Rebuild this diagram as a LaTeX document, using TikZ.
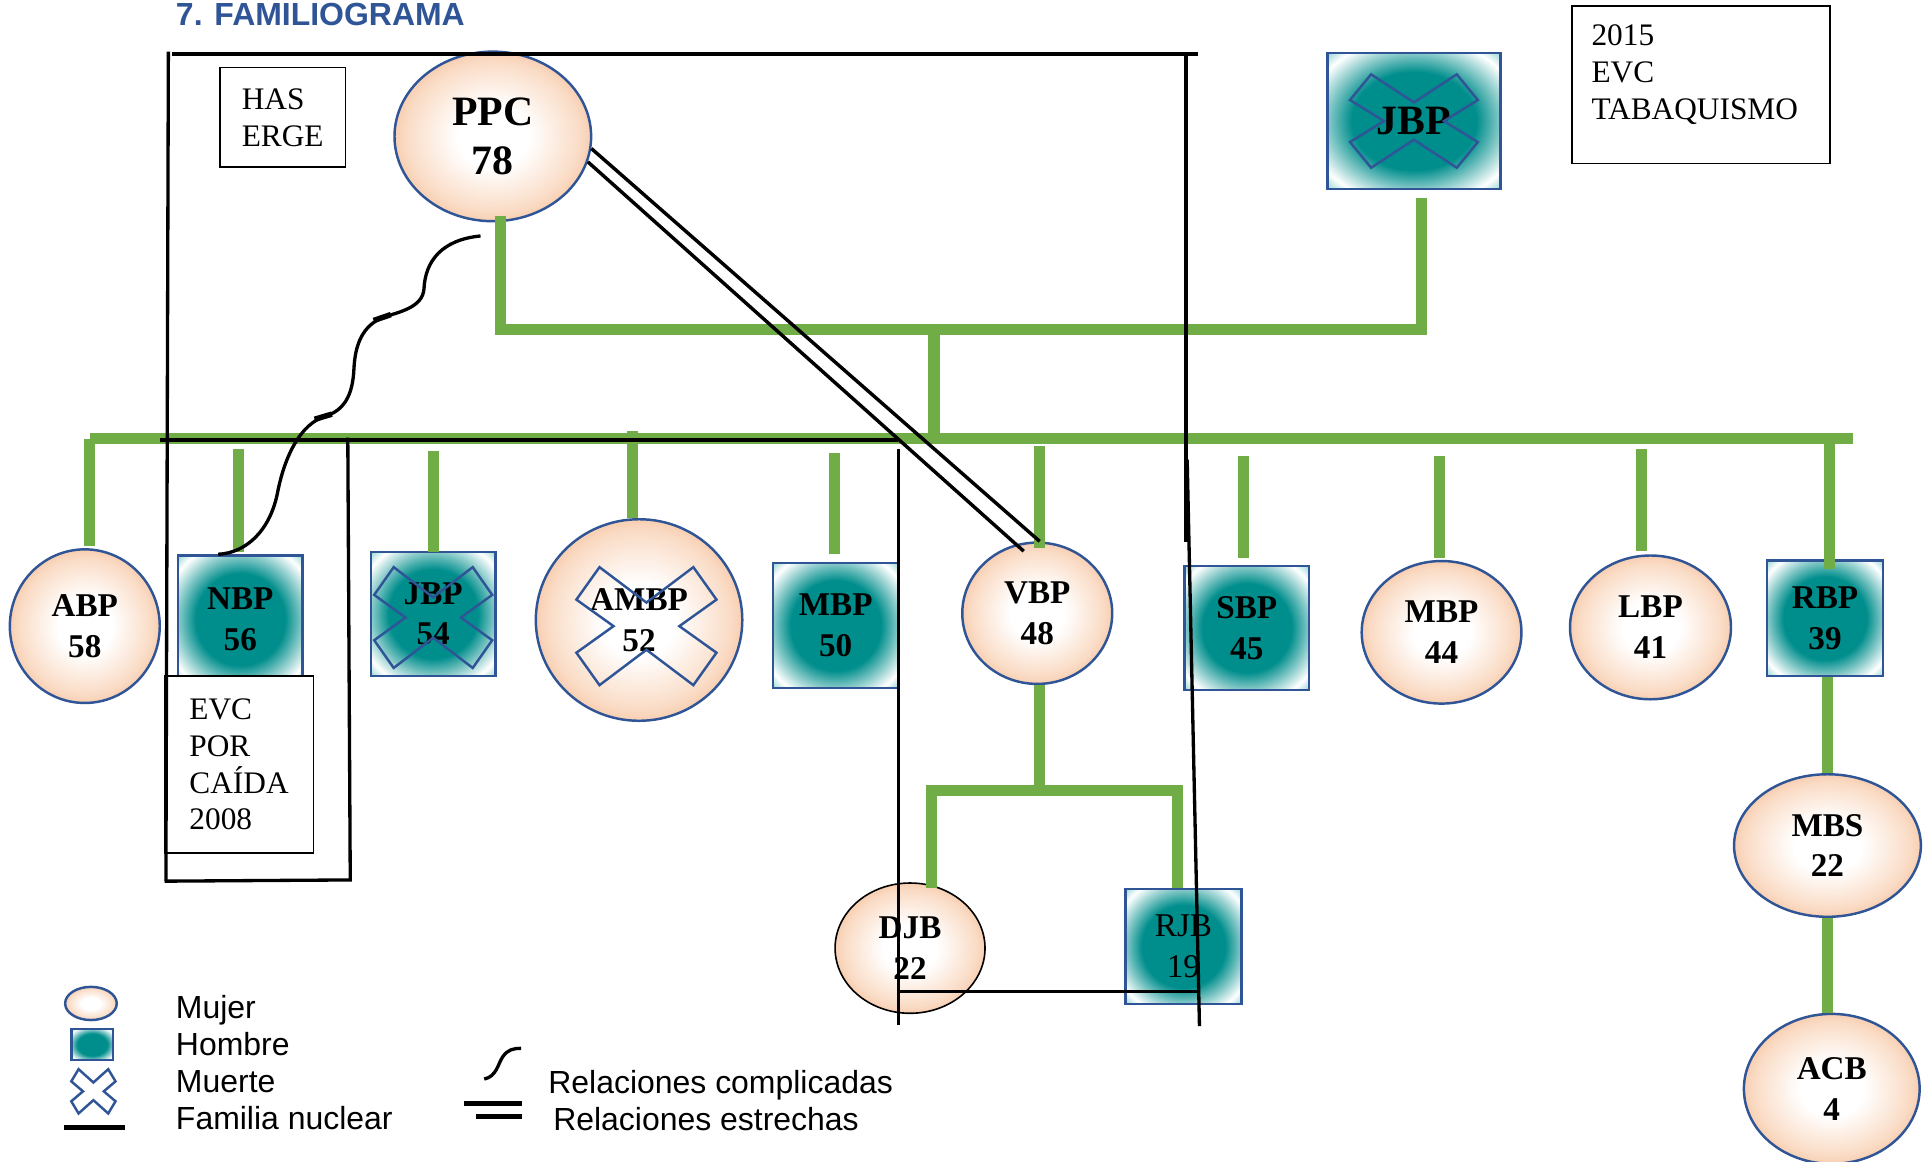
\documentclass[tikz,border=0pt]{standalone}
\usepackage{fontspec}
\setmainfont{Liberation Serif}
\newfontfamily\arialfam{Liberation Sans}
\usepackage{xcolor}
\usetikzlibrary{positioning, shapes.geometric, calc}

\definecolor{azul}{RGB}{47,85,151}
\definecolor{verde}{RGB}{112,173,71}
\definecolor{durazno}{RGB}{241,166,116}
\definecolor{duraznoc}{RGB}{250,220,198}
\definecolor{tealc}{RGB}{0,142,140}
\definecolor{teall}{RGB}{160,218,216}
\definecolor{esquina}{RGB}{212,142,92}

\pgfdeclareradialshading{mujershade}{\pgfpoint{0bp}{0bp}}{color(0bp)=(white); color(9bp)=(white); color(22bp)=(duraznoc); color(34bp)=(durazno); color(52bp)=(durazno)}
\pgfdeclareradialshading{hombreshade}{\pgfpoint{0bp}{0bp}}{color(0bp)=(tealc); color(18bp)=(tealc); color(31bp)=(white); color(35bp)=(teall); color(40bp)=(teall); color(48bp)=(esquina); color(52bp)=(esquina)}

\newcommand{\nombrefont}{\fontsize{27}{33}\selectfont\bfseries}
\newcommand{\nombrereg}{\fontsize{27}{33}\selectfont}
\newcommand{\grandefont}{\fontsize{34}{40}\selectfont\bfseries}
\newcommand{\notafont}{\fontsize{25.5}{30}\selectfont}
\newcommand{\leyfont}{\arialfam\fontsize{26}{30}\selectfont}

\tikzset{
    mujer/.style={ellipse, draw=azul, line width=2pt, shade, shading=mujershade, inner sep=0pt, align=center, font=\nombrefont},
    hombre/.style={rectangle, draw=azul, line width=2pt, shade, shading=hombreshade, inner sep=0pt, align=center, font=\nombrefont},
    kin/.style={draw=verde, line width=9pt},
    nuclear/.style={draw=black, line width=2.7pt},
    estrecha/.style={draw=black, line width=2.8pt},
    complicada/.style={draw=black, line width=2.7pt},
    cruz/.style={draw=azul, line width=2pt},
    nota/.style={rectangle, draw=black, line width=1.2pt, fill=white, inner sep=0pt, align=left, font=\notafont},
    leyenda/.style={anchor=base west, inner sep=0pt, font=\leyfont},
    titulo/.style={inner sep=0pt, text=azul, font=\arialfam\fontsize{26}{30}\selectfont\bfseries}
}

\newcommand{\muerte}[3]{%
  \draw[cruz, shift={(#1)}, xscale=#2, yscale=#3]
    (0,-0.4) -- (0.67,-1) -- (1,-0.45) -- (0.47,0) -- (1,0.45) -- (0.67,1)
    -- (0,0.4) -- (-0.67,1) -- (-1,0.45) -- (-0.47,0) -- (-1,-0.45) -- (-0.67,-1) -- cycle;}

\begin{document}
\begin{tikzpicture}[x=1pt, y=-1pt, line join=miter]
\useasboundingbox (0,0) rectangle (1568,945);

% Titulo y notas
\node[titulo, anchor=base west] (titulo) at (143,21) {7. FAMILIOGRAMA};
\node[nota, minimum width=102, minimum height=81] (has) at (230,95.5) {HAS\\ERGE};
\node[nota, minimum width=210, minimum height=128] (nota2015) at (1384,69) {};
\node[nota, draw=none, fill=none, anchor=north west] (txt2015) at ([shift={(16,15)}]nota2015.north west) {2015\\EVC\\TABAQUISMO};

% Padres
\node[mujer, font=\grandefont, minimum width=160, minimum height=138] (ppc) at (401,111) {PPC\\78};
\node[hombre, font=\grandefont, minimum width=141, minimum height=111] (jbpt) at (1150.5,98.5) {JBP};

% Hijos
\node[mujer, minimum width=122, minimum height=125] (abp) at (69,509.5) {ABP\\58};
\node[hombre, minimum width=101, minimum height=104] (nbp) at (195.5,504) {NBP\\56};
\node[nota, minimum width=121, minimum height=144] (evc) at (194.5,622) {EVC\\POR\\CAÍDA\\2008};
\node[hombre, minimum width=101, minimum height=101] (jbpc) at (352.5,499.5) {JBP\\54};
\node[mujer, minimum width=168, minimum height=164] (ambp) at (520,504.5) {AMBP\\52};
\node[hombre, minimum width=102, minimum height=102] (mbpc) at (680,509) {MBP\\50};
\node[mujer, minimum width=122, minimum height=115] (vbp) at (844,499) {VBP\\48};
\node[hombre, minimum width=101, minimum height=100.5] (sbp) at (1014.5,511) {SBP\\45};
\node[mujer, minimum width=130, minimum height=116] (mbpd) at (1173,514.5) {MBP\\44};
\node[mujer, minimum width=131, minimum height=117] (lbp) at (1343,510.5) {LBP\\41};
\node[hombre, minimum width=94, minimum height=94] (rbp) at (1485,503) {RBP\\39};

% Nietos
\node[mujer, minimum width=152, minimum height=116] (mbs) at (1487,688) {MBS\\22};
\node[mujer, minimum width=143, minimum height=122] (acb) at (1490.5,886) {ACB\\4};
\node[mujer, draw=black, line width=1.3pt, minimum width=122, minimum height=106] (djb) at (740.5,771.5) {DJB\\22};
\node[hombre, font=\nombrereg, minimum width=94.5, minimum height=93.5] (rjb) at (963,770) {RJB\\19};

% Muertes
\muerte{jbpt}{52}{38}
\muerte{$(jbpc)+(0,3)$}{48}{41}
\muerte{$(ambp)+(6,5)$}{57}{48}

% Lineas de parentesco
\coordinate (padres) at (760,268);
\coordinate (hijosI) at (73,357);
\coordinate (hijosD) at (1508,357);
\coordinate (pj) at ([shift={(6.5,6)}]jbpt.south);
\draw[kin] ([shift={(6,-5)}]ppc.south) |- (pj |- padres) -- (pj);
\draw[kin] (padres) -- (padres |- hijosI);
\draw[kin] (hijosI) -- (hijosD);
\foreach \n/\x/\s/\e in {abp/73/357/2, nbp/194/365/2, jbpc/353/367/-1, ambp/515/351/0,
    mbpc/679/369/6, vbp/846/363/-5.5, sbp/1012/371/5.5, mbpd/1171/371/1.5,
    lbp/1336/365/3, rbp/1489/357/-8}{
  \coordinate (cx) at (\x,\s);
  \draw[kin, shorten >=\e pt] (cx) -- (cx |- \n.north);
}
\coordinate (nietos) at (846,643);
\coordinate (nd) at (758,643);
\coordinate (nr) at (958,643);
\draw[kin] (vbp.south -| nietos) -- (nietos);
\draw[kin, shorten <=-4.5pt, shorten >=-0.5pt] (nd |- djb.north) -- (nd) -- (nr) -- (nr |- rjb.north);
\draw[kin] (rbp.south -| mbs.north) -- (mbs.north);
\draw[kin] (mbs.south) -- (acb.north -| mbs.south);

% Familia nuclear
\draw[nuclear] (140,44) -- (975,44);
\draw[nuclear] (137,42) -- (135,717);
\draw[nuclear] (965,44) -- (965,441);
\draw[nuclear] (966,374) -- (976,835);
\draw[nuclear] (130,358) -- (731,358);
\draw[nuclear] (283,356) -- (285,716) -- (134,717);
\draw[nuclear] (731,365) -- (731,834);
\draw[nuclear] (731,807) -- (975,807);

% Relaciones
\draw[estrecha] (ppc.-7) -- ([xshift=2pt]vbp.north);
\draw[estrecha] (ppc.-15) -- ([shift={(-11,8)}]vbp.north);
\draw[complicada] ([shift={(-10,11)}]ppc.south) .. controls (360,195) and (346,212) .. (345,235)
    .. controls (344,250) and (325,254) .. (312,258)
    .. controls (295,265) and (289,280) .. (288,300)
    .. controls (287,322) and (280,334) .. (264,339)
    .. controls (245,345) and (232,370) .. (226,400)
    .. controls (220,432) and (200,450) .. ([xshift=-18pt]nbp.north);
\draw[line width=4.5pt] (304,260.8) -- (318,256);
\draw[line width=4.5pt] (256,341.2) -- (270,337);

% Leyenda
\node[mujer, minimum width=42, minimum height=27] (legmujer) at (74,816.5) {};
\node[hombre, minimum width=34, minimum height=25] (leghombre) at (75,850) {};
\coordinate (legmuerte) at (76,888);
\muerte{legmuerte}{18}{18}
\coordinate (legnucA) at (52,917.5);
\coordinate (legnucB) at (102,917.5);
\draw[nuclear, line width=3.5pt] (legnucA) -- (legnucB);
\coordinate (legcomA) at (394,878);
\coordinate (legcomB) at (424,853);
\draw[complicada] (legcomA) .. controls (404,876) and (405,866) .. (409,860) .. controls (413,854) and (418,853) .. (legcomB);
\coordinate (legestA) at (377.5,898);
\coordinate (legestB) at (425,898);
\coordinate (legestC) at (387,908.5);
\coordinate (legestD) at (425,908.5);
\draw[estrecha, line width=3.5pt] (legestA) -- (legestB);
\draw[estrecha, line width=3.5pt] (legestC) -- (legestD);
\node[leyenda] (txtmujer) at (143,829) {Mujer};
\node[leyenda] (txthombre) at (143,859) {Hombre};
\node[leyenda] (txtmuerte) at (143,889) {Muerte};
\node[leyenda] (txtnuclear) at (143,919) {Familia nuclear};
\node[leyenda] (txtcomp) at (446,890) {Relaciones complicadas};
\node[leyenda] (txtestr) at (450,919.5) {Relaciones estrechas};

\end{tikzpicture}
\end{document}
